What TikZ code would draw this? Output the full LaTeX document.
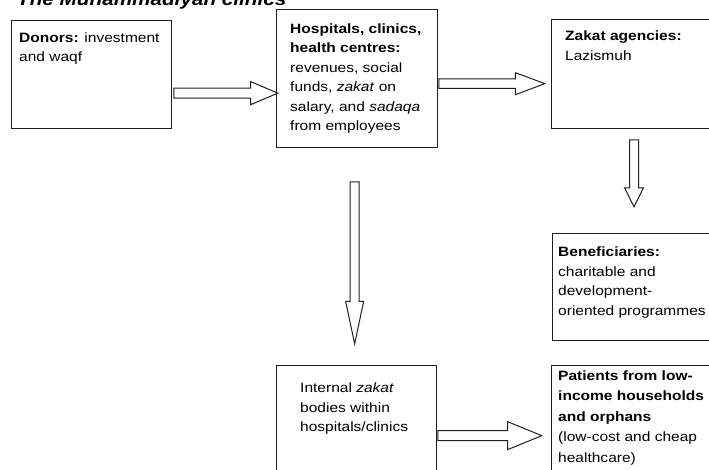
\documentclass[tikz,border=0pt]{standalone}
\usepackage{fontspec}
\setmainfont[FakeStretch=1.15]{Liberation Sans}
\usepackage{tikz}
\usetikzlibrary{shapes.arrows}

\begin{document}
\begin{tikzpicture}[x=1pt,y=-1pt]
\tikzset{font=\fontsize{13.5}{19.5}\selectfont}
\tikzset{box/.style={draw=black!88, line width=1.3pt, rectangle, anchor=north west, inner sep=0pt}}
\tikzset{txt/.style={anchor=base west, align=left, inner sep=0pt}}
\tikzset{fatarrow/.style={draw=black!88, line width=1pt, single arrow, single arrow head indent=0pt, inner xsep=0pt, minimum width=0pt, anchor=tail}}
\useasboundingbox (0,0) rectangle (709,469);
\clip (0,0) rectangle (709,469);
\node[anchor=base west, inner sep=0pt, font=\fontsize{18}{20}\selectfont\bfseries\itshape] (title) at (17,5) {The Muhammadiyah clinics};
\node[box, minimum width=160pt, minimum height=108pt] (donors) at (11,20) {};
\node[box, minimum width=161pt, minimum height=138pt] (hospitals) at (276,9) {};
\node[box, minimum width=180pt, minimum height=109pt] (zakat) at (551,19) {};
\node[box, minimum width=180pt, minimum height=107pt] (benef) at (552,233) {};
\node[box, minimum width=160pt, minimum height=120pt] (internal) at (276,365) {};
\node[box, minimum width=180pt, minimum height=120pt] (patients) at (551,365) {};
\node[txt] (donors-txt) at ([shift={(8pt,-41.8pt)}]donors.north west) {\textbf{Donors:} investment\\and waqf};
\node[txt] (hospitals-txt) at ([shift={(14pt,-121.8pt)}]hospitals.north west) {\textbf{Hospitals, clinics,}\\\textbf{health centres:}\\revenues, social\\funds, \textit{zakat} on\\salary, and \textit{sadaqa}\\from employees};
\node[txt] (zakat-txt) at ([shift={(14pt,-41.2pt)}]zakat.north west) {\textbf{Zakat agencies:}\\Lazismuh};
\node[txt] (benef-txt) at ([shift={(6pt,-82.2pt)}]benef.north west) {\textbf{Beneficiaries:}\\charitable and\\development-\\oriented programmes};
\node[txt] (internal-txt) at ([shift={(24pt,-66.5pt)}]internal.north west) {Internal \textit{zakat}\\bodies within\\hospitals/clinics};
\node[txt, font=\fontsize{13.5}{20.5}\selectfont] (patients-txt) at ([shift={(7pt,-97pt)}]patients.north west) {\textbf{Patients from low-}\\\textbf{income households}\\\textbf{and orphans}\\(low-cost and cheap\\healthcare)};
\node[fatarrow, minimum height=104pt, inner ysep=4.5pt, single arrow head extend=6.5pt, single arrow tip angle=46] (donors-hospitals) at ([shift={(1pt,-18.5pt)}]donors.east) {};
\node[fatarrow, minimum height=106pt, inner ysep=4.25pt, single arrow head extend=6.25pt, single arrow tip angle=41] (hospitals-zakat) at ([yshift=-5pt]hospitals.east) {};
\node[fatarrow, rotate=-90, minimum height=67pt, inner ysep=4pt, single arrow head extend=5pt, single arrow tip angle=53] (zakat-benef) at ([shift={(83pt,-10pt)}]zakat.south west) {};
\node[fatarrow, rotate=-90, minimum height=162pt, inner ysep=4pt, single arrow head extend=4.5pt, single arrow tip angle=24] (hospitals-internal) at ([shift={(-2.5pt,-33pt)}]hospitals.south) {};
\node[fatarrow, minimum height=104pt, inner ysep=4.5pt, single arrow head extend=9pt, single arrow tip angle=44.5] (internal-patients) at ([yshift=-10pt]internal.east) {};
\end{tikzpicture}
\end{document}
